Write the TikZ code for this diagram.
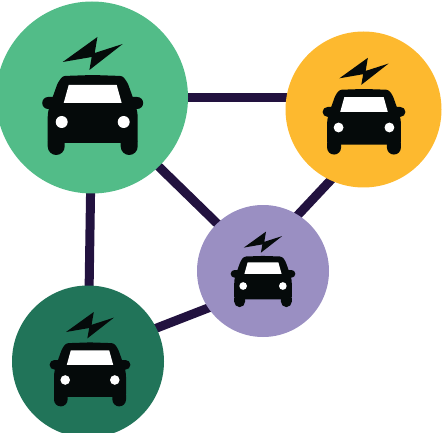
\documentclass[tikz,border=0pt]{standalone}
\usepackage{xcolor}
\usetikzlibrary{backgrounds}
\definecolor{hubgreen}{RGB}{82,188,136}
\definecolor{hubyellow}{RGB}{253,185,47}
\definecolor{hubpurple}{RGB}{154,143,194}
\definecolor{hubdark}{RGB}{33,116,89}
\definecolor{linkink}{RGB}{34,18,63}
\definecolor{carink}{RGB}{5,10,10}
\tikzset{
  hub/.style={circle, draw=none, inner sep=0pt},
  link/.style={draw=linkink, line width=9pt, shorten <=-4pt, shorten >=-4pt},
  evcar/.pic={
    % Bolt
    \fill[carink] (-30,35) -- (4.7,60) -- (2,44) -- (30,53) -- (-3.3,27) -- (-1,40) -- cycle;
    % Body
    \fill[carink, rounded corners=2.5pt] (0,22) -- (30,21) -- (35,14) -- (40,0) -- (44,-12) -- (45,-18)
      -- (45,-46) -- (-45,-46) -- (-45,-18) -- (-44,-12) -- (-40,0) -- (-35,14) -- (-30,21) -- cycle;
    % Mirrors
    \fill[carink] (-44.5,0) -- (44.5,0) arc (90:-90:6) -- (-44.5,-12) arc (270:90:6) -- cycle;
    % Wheels
    \foreach \x in {-36.5,36.5} {
      \fill[carink] (\x-8.5,-44) -- (\x+8.5,-44) -- (\x+8.5,-49.5) arc (0:-180:8.5) -- cycle;
    }
    % Windscreen and lamps
    \fill[white] (-24,12) -- (24,12) -- (29,-6) -- (-29,-6) -- cycle;
    \fill[white] (-31,-25) circle (6);
    \fill[white] (31,-25) circle (6);
  },
}

\begin{document}
\begin{tikzpicture}[x=1pt, y=1pt]
  \useasboundingbox (0,0) rectangle (442,-433);

  % Hubs
  \node[hub, fill=hubgreen, minimum size=192pt] (big) at (92,-97.5) {};
  \node[hub, fill=hubyellow, minimum size=156pt] (yellow) at (363.5,-109.5) {};
  \node[hub, fill=hubpurple, minimum size=132pt] (purple) at (263,-271) {};
  \node[hub, fill=hubdark, minimum size=152pt] (dark) at (88,-361.5) {};

  % Links
  \begin{scope}[on background layer]
    \draw[link] (big.east) -- (big.east -| yellow.west);
    \draw[link] (big) -- (dark);
    \draw[link] (big.-46) -- (purple.134);
    \draw[link] (yellow.245) -- (purple.58);
    \draw[link] (dark.26) -- (purple.214);
  \end{scope}

  % Cars
  \pic at (92.7,-97) {evcar};
  \pic[scale=.82] at (364,-107) {evcar};
  \pic[scale=.64] at (263,-270) {evcar};
  \pic[scale=.8] at (90,-360) {evcar};
\end{tikzpicture}
\end{document}
